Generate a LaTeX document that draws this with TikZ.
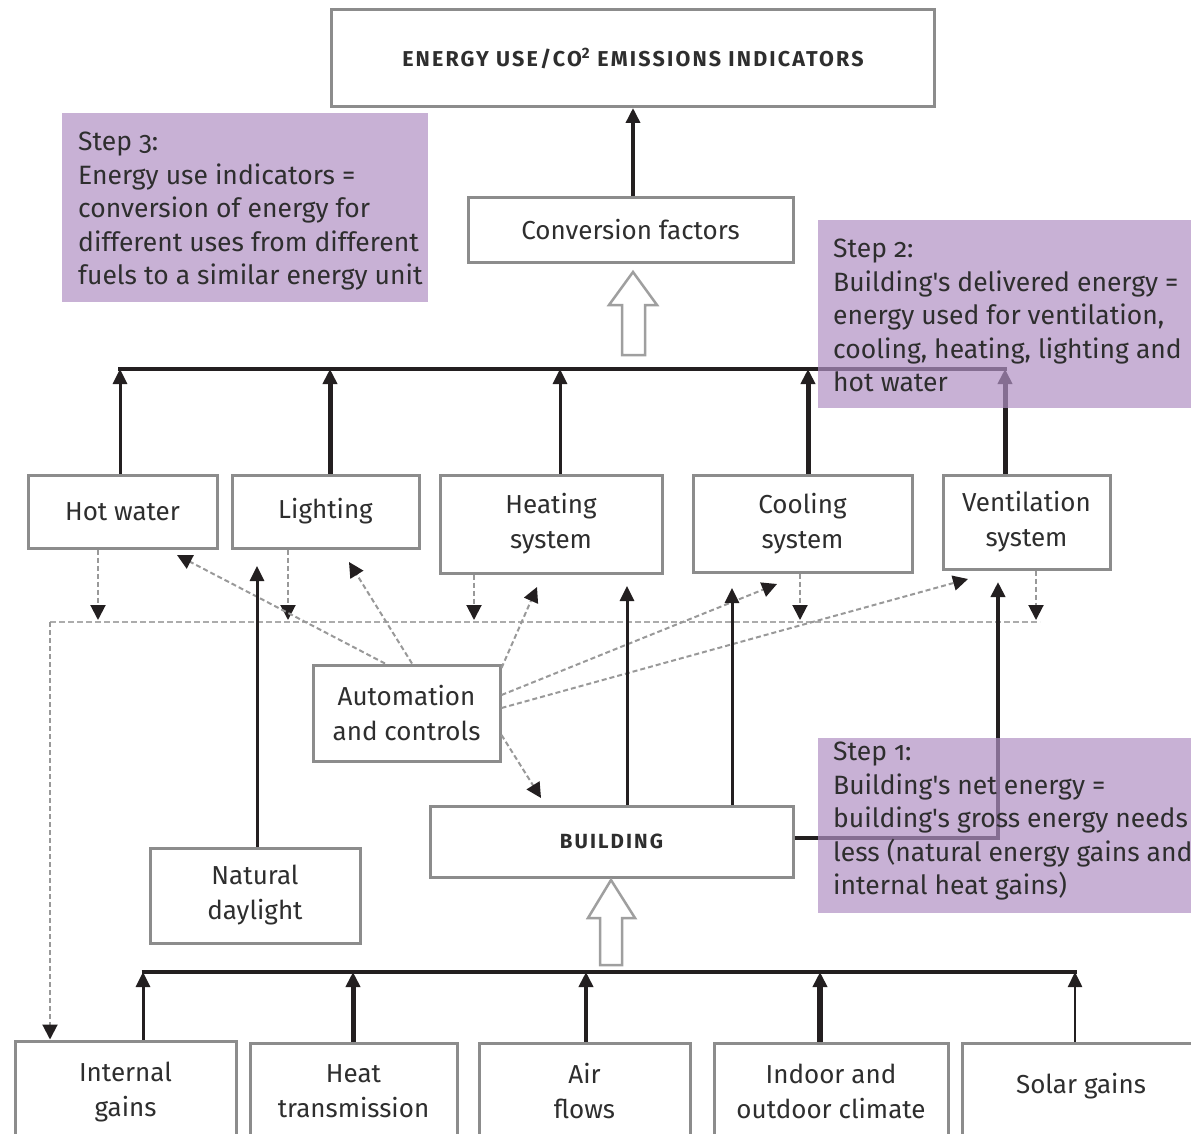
\documentclass[tikz,border=0pt]{standalone}
\usepackage{fontspec}
\setmainfont{Fira Sans}
\newfontfamily\stepfont[Numbers=OldStyle]{Fira Sans}
\newfontfamily\capsfont[LetterSpace=10]{Fira Sans}
\usetikzlibrary{arrows.meta}
\definecolor{txt}{HTML}{2E2E2E}
\definecolor{bord}{HTML}{8C8C8C}
\definecolor{stepc}{HTML}{B090C3}
\definecolor{ln}{HTML}{231F20}
\begin{document}
\begin{tikzpicture}[x=1pt,y=-1pt,
 box/.style={draw=bord, line width=3pt, fill=white, text=txt, align=center, inner sep=0pt, font=\fontsize{26}{35}\selectfont},
 stepbox/.style={fill=stepc, fill opacity=0.7, draw=none, inner sep=0pt, anchor=north west},
 steptext/.style={text=txt, align=left, anchor=north west, inner sep=0pt, font=\stepfont\fontsize{26.5}{33.5}\selectfont},
 conn/.style={draw=ln, line width=3pt, -{Triangle[length=15pt,width=14pt]}},
 dconn/.style={draw=gray!80, dash pattern=on 5pt off 3pt, line width=2pt, -{Triangle[length=15pt,width=15pt,color=ln,fill=ln]}},
 dline/.style={draw=gray!65, dash pattern=on 6pt off 3pt, line width=2.5pt},
 bus/.style={draw=ln, line width=3.5pt},
 hollow/.style={draw=gray!75, line width=2.5pt, fill=white, line join=miter}
]
\useasboundingbox (0,0) rectangle (1191,1134);
\clip (0,0) rectangle (1191,1134);

% boxes
\node[box, minimum width=603pt, minimum height=97pt, font=\capsfont\bfseries\fontsize{21.5}{24}\selectfont] (top) at (633,58.5) {ENERGY USE/CO\textsuperscript{2} EMISSIONS INDICATORS};
\node[box, minimum width=325pt, minimum height=64pt] (conv) at (630.5,230) {Conversion factors};
\node[box, minimum width=189pt, minimum height=73pt] (hw) at (122.5,511.5) {Hot water};
\node[box, minimum width=187pt, minimum height=73pt] (li) at (325.5,511.5) {Lighting};
\node[box, minimum width=222pt, minimum height=98pt] (he) at (551,524) {Heating\\system};
\node[box, minimum width=219pt, minimum height=97pt] (co) at (802.5,523.5) {Cooling\\system};
\node[box, minimum width=167pt, minimum height=94pt] (ve) at (1026.5,522) {Ventilation\\system};
\node[box, minimum width=187pt, minimum height=96pt] (au) at (406.5,713) {Automation\\and controls};
\node[box, minimum width=363pt, minimum height=71pt, font=\capsfont\bfseries\fontsize{20.5}{24}\selectfont] (bld) at (611.5,841.5) {BUILDING};
\node[box, minimum width=210pt, minimum height=95pt] (dl) at (255,895.5) {Natural\\daylight};
\node[box, minimum width=221pt, minimum height=110pt, text depth=14pt] (ig) at (125.5,1096) {Internal\\gains};
\node[box, minimum width=207pt, minimum height=110pt, text depth=14pt] (ht) at (353.5,1098) {Heat\\transmission};
\node[box, minimum width=211pt, minimum height=110pt, text depth=14pt] (af) at (584.5,1098) {Air\\flows};
\node[box, minimum width=234pt, minimum height=110pt, text depth=14pt] (ic) at (831,1098) {Indoor and\\outdoor climate};
\node[box, minimum width=238pt, minimum height=110pt, text depth=30pt] (sg) at (1081,1098) {Solar gains};

% top bus
\coordinate (t1) at (120,369);
\coordinate (t2) at (330,369);
\coordinate (t3) at (560,369);
\coordinate (t4) at (808,369);
\coordinate (t5) at (1005,369);
\coordinate (tc) at (633,108);
\draw[bus] ([xshift=-1.75pt]t1) -- ([xshift=1.75pt]t5);
\draw[conn] (hw.north -| t1) -- (t1);
\draw[conn, line width=5pt] (li.north -| t2) -- (t2);
\draw[conn] (he.north -| t3) -- (t3);
\draw[conn, line width=5pt] (co.north -| t4) -- (t4);
\draw[conn, line width=5pt] (ve.north -| t5) -- (t5);
\draw[conn, line width=3.5pt] (conv.north -| tc) -- (tc);
\draw[hollow] (622,355) -- (622,305) -- (609,305) -- (633,272) -- (657,305) -- (645,305) -- (645,355) -- cycle;

% dashed bus
\coordinate (d0) at (50,622);
\coordinate (d1) at (1040,622);
\draw[dline] (d0) -- (d1);
\draw[dconn] (d0) -- (ig.north -| d0);
\coordinate (dh) at (98,620);
\coordinate (dli) at (288,620);
\coordinate (dhe) at (474,620);
\coordinate (dco) at (800,620);
\coordinate (dve) at (1036,620);
\draw[dconn] (hw.south -| dh) -- (dh);
\draw[dconn] (li.south -| dli) -- (dli);
\draw[dconn] (he.south -| dhe) -- (dhe);
\draw[dconn] (co.south -| dco) -- (dco);
\draw[dconn] (ve.south -| dve) -- (dve);

% automation arrows
\coordinate (ahw) at (177,555);
\coordinate (ali) at (349,562);
\coordinate (ahe) at (537,587);
\coordinate (aco) at (777,584);
\coordinate (ave) at (968,579);
\coordinate (abl) at (541,798);
\draw[dconn] ([xshift=-21.5pt]au.north) -- (ahw);
\draw[dconn] ([xshift=5.5pt]au.north) -- (ali);
\draw[dconn] ([yshift=45pt]au.east) -- (ahe);
\draw[dconn] ([yshift=18pt]au.east) -- (aco);
\draw[dconn] ([yshift=5pt]au.east) -- (ave);
\draw[dconn] ([yshift=-22pt]au.east) -- (abl);

% building arrows
\coordinate (bhe) at (627,586);
\coordinate (bco) at (732,588);
\coordinate (bve) at (998,582);
\draw[conn] (bld.north -| bhe) -- (bhe);
\draw[conn] (bld.north -| bco) -- (bco);
\draw[conn, line width=4.5pt] ([yshift=3.5pt]bld.east) -| (bve);
\coordinate (dla) at (257,566);
\draw[conn] (dl.north -| dla) -- (dla);

% bottom bus
\coordinate (b1) at (143,972);
\coordinate (b2) at (353,972);
\coordinate (b3) at (586,972);
\coordinate (b4) at (820,972);
\coordinate (b5) at (1075,972);
\draw[bus, line width=4pt] ([xshift=-1.5pt]b1) -- ([xshift=1.5pt]b5);
\draw[conn] (ig.north -| b1) -- (b1);
\draw[conn, line width=5pt] (ht.north -| b2) -- (b2);
\draw[conn, line width=4.5pt] (af.north -| b3) -- (b3);
\draw[conn, line width=6pt] (ic.north -| b4) -- (b4);
\draw[conn, line width=2.5pt] (sg.north -| b5) -- (b5);
\draw[hollow] (600,965) -- (600,918) -- (588,918) -- (611,880) -- (635,918) -- (622,918) -- (622,965) -- cycle;

% step boxes
\node[stepbox, minimum width=366pt, minimum height=189pt] (s3) at (62,113) {};
\node[steptext] (s3t) at (78,132) {Step 3:\\Energy use indicators =\\conversion of energy for\\different uses from different\\fuels to a similar energy unit};
\node[stepbox, minimum width=380pt, minimum height=188pt] (s2) at (818,220) {};
\node[steptext] (s2t) at (833,239) {Step 2:\\Building's delivered energy =\\energy used for ventilation,\\cooling, heating, lighting and\\hot water};
\node[stepbox, minimum width=380pt, minimum height=175pt] (s1) at (818,738) {};
\node[steptext] (s1t) at (833,742) {Step 1:\\Building's net energy =\\building's gross energy needs\\less (natural energy gains and\\internal heat gains)};
\end{tikzpicture}
\end{document}
